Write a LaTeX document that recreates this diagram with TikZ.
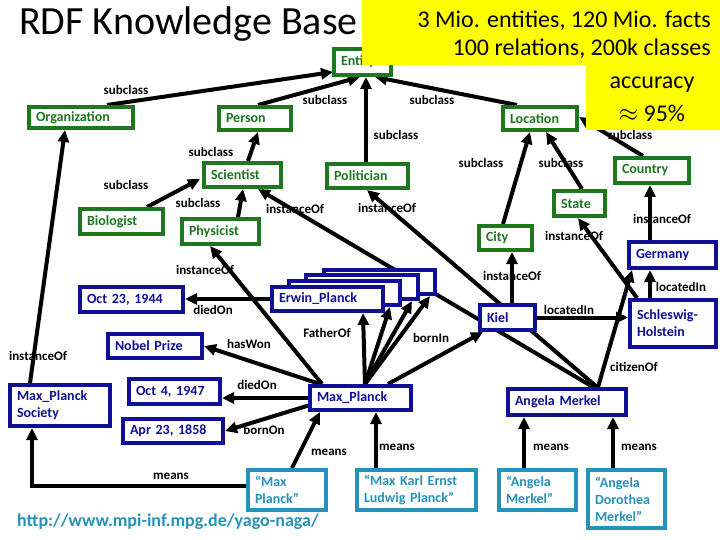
\documentclass[tikz,border=0pt]{standalone}
\usepackage{fontspec}
\setmainfont{Carlito}
\usetikzlibrary{arrows.meta,calc}
\pgfdeclarelayer{bg}
\pgfdeclarelayer{fg}
\pgfsetlayers{bg,main,fg}
\definecolor{cgreen}{RGB}{30,118,30}
\definecolor{cblue}{RGB}{15,15,150}
\definecolor{cteal}{RGB}{38,145,185}
\definecolor{cyel}{RGB}{255,255,0}
\tikzset{
  boxbase/.style={line width=4pt, fill=white, font=\bfseries\fontsize{14}{17}\selectfont},
  cls/.style={boxbase, draw=cgreen, text=cgreen},
  ins/.style={boxbase, draw=cblue, text=cblue},
  lab/.style={boxbase, draw=cteal, text=cteal},
  rel/.style={font=\bfseries\fontsize{13}{15}\selectfont, inner sep=1pt},
  arr/.style={line width=4pt, -{Triangle[length=12pt,width=11pt]}},
}
\newcommand{\bx}[7]{%
  \pgfmathsetmacro\bxw{#5-#3-4}%
  \pgfmathsetmacro\bxh{#6-#4-4}%
  \pgfmathsetmacro\bxtw{#5-#3-18}%
  \node[#1, anchor=north west, minimum width=\bxw pt, minimum height=\bxh pt,
        text width=\bxtw pt, inner xsep=7pt, inner ysep=0pt, align=left] (#2) at (#3,#4) {#7};}
\begin{document}
\begin{tikzpicture}[x=1pt,y=-1pt]
\useasboundingbox (0,0) rectangle (720,540);
% title
\node[font=\fontsize{40}{42}\selectfont, anchor=west, inner sep=0pt] (title) at (19,24) {RDF Knowledge Base};
% classes
\bx{cls}{ent}{332}{47}{393}{77}{Entity}
\bx{cls}{org}{27}{105}{135}{130}{Organization}
\bx{cls}{per}{217}{105}{293}{132}{Person}
\bx{cls}{loc}{501}{105}{579}{132}{Location}
\bx{cls}{sci}{202}{161}{283}{189}{Scientist}
\bx{cls}{pol}{325}{162}{410}{190}{Politician}
\bx{cls}{bio}{78}{207}{165}{236}{Biologist}
\bx{cls}{phy}{180}{217}{261}{246}{Physicist}
\bx{cls}{cou}{613}{156}{691}{185}{Country}
\bx{cls}{sta}{552}{189}{607}{218}{State}
\bx{cls}{cit}{477}{224}{534}{252}{City}
% instances
\bx{ins}{ger}{627}{240}{718}{270}{Germany}
\bx{ins}{oct23}{78}{285}{185}{314}{Oct 23, 1944}
\bx{ins}{erwd}{322}{268}{437}{296}{}
\bx{ins}{erwc}{304}{273}{420}{301}{}
\bx{ins}{erwb}{287}{279}{402}{307}{}
\bx{ins}{erw}{270}{285}{385}{313}{Erwin\_Planck}
\bx{ins}{kiel}{478}{303}{537}{332}{Kiel}
\bx{ins}{sh}{628}{298}{718}{349}{Schleswig-\\Holstein}
\bx{ins}{nob}{106}{332}{204}{360}{Nobel Prize}
\bx{ins}{mps}{8}{383}{112}{428}{Max\_Planck\\Society}
\bx{ins}{oct4}{127}{377}{222}{406}{Oct 4, 1947}
\bx{ins}{max}{308}{384}{413}{412}{Max\_Planck}
\bx{ins}{ang}{506}{387}{628}{417}{Angela Merkel}
\bx{ins}{apr}{121}{417}{225}{445}{Apr 23, 1858}
% labels
\bx{lab}{lmax}{246}{468}{328}{512}{“Max\\Planck”}
\bx{lab}{lkarl}{355}{468}{478}{512}{“Max Karl Ernst\\Ludwig Planck”}
\bx{lab}{lang}{497}{468}{578}{512}{“Angela\\Merkel”}
\bx{lab}{ldor}{586}{468}{667}{530}{“Angela\\Dorothea\\Merkel”}
% edges
\begin{pgfonlayer}{bg}
\draw[arr] ($(org.north west)+(80,0)$) -- ($(ent.north west)+(1,25)$);
\draw[arr] ($(per.north west)+(41,0)$) -- ($(ent.south west)+(28,0)$);
\draw[arr] ($(pol.north west)+(41,0)$) -- ($(ent.south west)+(34,0)$);
\draw[arr] ($(loc.north west)+(16,0)$) -- ($(ent.south west)+(43,0)$);
\draw[arr] ($(sci.north west)+(46,0)$) -- ($(per.south west)+(41,0)$);
\draw[arr] ($(bio.north west)+(69,0)$) -- ($(sci.north west)+(-2,18)$);
\draw[arr] ($(phy.north west)+(58,0)$) -- ($(sci.south west)+(41,0)$);
\draw[arr] ($(cit.north west)+(26,0)$) -- ($(loc.south west)+(29,0)$);
\draw[arr] ($(sta.north west)+(30,0)$) -- ($(loc.south west)+(45,0)$);
\draw[arr] ($(cou.north west)+(30,0)$) -- ($(loc.north east)+(0,12)$);
\draw[arr] ($(ger.north west)+(23,0)$) -- ($(cou.south west)+(37,0)$);
\draw[arr] ($(sh.north west)+(22,0)$) -- ($(ger.south west)+(23,0)$);
\draw[arr] ($(sh.north west)+(9,0)$) -- ($(sta.south west)+(26,0)$);
\draw[arr] ($(kiel.north west)+(34,0)$) -- ($(cit.south west)+(35,0)$);
\draw[arr] (kiel.east) -- (kiel.east -| sh.west);
\draw[arr] ($(ang.north west)+(87,0)$) -- ($(sci.south east)+(-25,0)$);
\draw[arr] ($(ang.north west)+(91,0)$) -- ($(pol.south west)+(42,0)$);
\draw[arr] ($(ang.north west)+(92,0)$) -- ($(ger.south west)+(5,0)$);
\draw[arr] ($(max.north west)+(14,0)$) -- ($(phy.south west)+(30,0)$);
\draw[arr] ($(max.north west)+(12,0)$) -- (nob.east);
\draw[arr] (max.west) -- (max.west -| oct4.east);
\draw[arr] ($(max.south west)+(2,-7)$) -- (apr.east);
\draw[arr] (erw.west) -- (erw.west -| oct23.east);
\draw[arr] ($(max.north west)+(57,0)$) -- ($(erw.south west)+(93,0)$);
\draw[arr] ($(max.north west)+(57,0)$) -- ($(erwb.south west)+(103,0)$);
\draw[arr] ($(max.north west)+(57,0)$) -- ($(erwc.south west)+(108,0)$);
\draw[arr] ($(max.north west)+(57,0)$) -- ($(erwd.south west)+(108,0)$);
\draw[arr] ($(max.north west)+(80,0)$) -- ($(kiel.south west)+(5,0)$);
\draw[arr] ($(mps.north west)+(22,0)$) -- ($(org.south west)+(38,0)$);
\draw[arr] ($(lmax.north west)+(46,0)$) -- ($(max.south west)+(12,0)$);
\draw[arr] ($(lmax.north west)+(0,18)$) -| ($(mps.south west)+(24,0)$);
\coordinate (kk) at ($(lkarl.north west)+(21,0)$);
\draw[arr] (kk) -- (kk |- max.south);
\coordinate (la) at ($(lang.north west)+(27,0)$);
\draw[arr] (la) -- (la |- ang.south);
\coordinate (ld) at ($(ldor.north west)+(27,0)$);
\draw[arr] (ld) -- (ld |- ang.south);
\end{pgfonlayer}
% edge labels
\node[rel] (t1) at (126,90) {subclass};
\node[rel] (t2) at (325,100) {subclass};
\node[rel] (t3) at (396,135) {subclass};
\node[rel] (t4) at (432,100) {subclass};
\node[rel] (t5) at (211,152) {subclass};
\node[rel] (t6) at (126,185) {subclass};
\node[rel] (t7) at (198,203) {subclass};
\node[rel] (t8) at (295,209) {instanceOf};
\node[rel] (t9) at (387,208) {instanceOf};
\node[rel] (t10) at (481,163) {subclass};
\node[rel] (t11) at (561,163) {subclass};
\node[rel] (t12) at (630,135) {subclass};
\node[rel] (t13) at (662,219) {instanceOf};
\node[rel] (t14) at (574,236) {instanceOf};
\node[rel] (t15) at (205,270) {instanceOf};
\node[rel] (t16) at (512,276) {instanceOf};
\node[rel] (t17) at (681,287) {locatedIn};
\node[rel] (t18) at (569,310) {locatedIn};
\node[rel] (t19) at (431,338) {bornIn};
\node[rel] (t20) at (634,367) {citizenOf};
\node[rel] (t21) at (327,333) {FatherOf};
\node[rel] (t22) at (213,310) {diedOn};
\node[rel] (t23) at (249,344) {hasWon};
\node[rel] (t24) at (257,385) {diedOn};
\node[rel] (t25) at (38,356) {instanceOf};
\node[rel] (t26) at (264,430) {bornOn};
\node[rel] (t27) at (329,452) {means};
\node[rel] (t28) at (171,476) {means};
\node[rel] (t29) at (397,447) {means};
\node[rel] (t30) at (551,447) {means};
\node[rel] (t31) at (639,447) {means};
% url
\node[text=cteal, font=\bfseries\fontsize{18}{20}\selectfont, anchor=west, inner sep=0pt] (url) at (17,522) {http://www.mpi-inf.mpg.de/yago-naga/};
% yellow call-out
\begin{pgfonlayer}{fg}
\fill[cyel] (362,0) -- (720,0) -- (720,130) -- (586,130) -- (586,65) -- (362,65) -- cycle;
\node[font=\fontsize{24}{26}\selectfont, anchor=east, inner sep=0pt] (y1) at (711,21) {3 Mio. entities, 120 Mio. facts};
\node[font=\fontsize{24}{26}\selectfont, anchor=east, inner sep=0pt] (y2) at (711,49) {100 relations, 200k classes};
\node[font=\fontsize{24}{26}\selectfont, inner sep=0pt] (y3) at (652,85) {accuracy};
\node[font=\fontsize{24}{26}\selectfont, inner sep=0pt] (y4) at (652,113) {$\approx$ 95\%};
\end{pgfonlayer}
\end{tikzpicture}
\end{document}
